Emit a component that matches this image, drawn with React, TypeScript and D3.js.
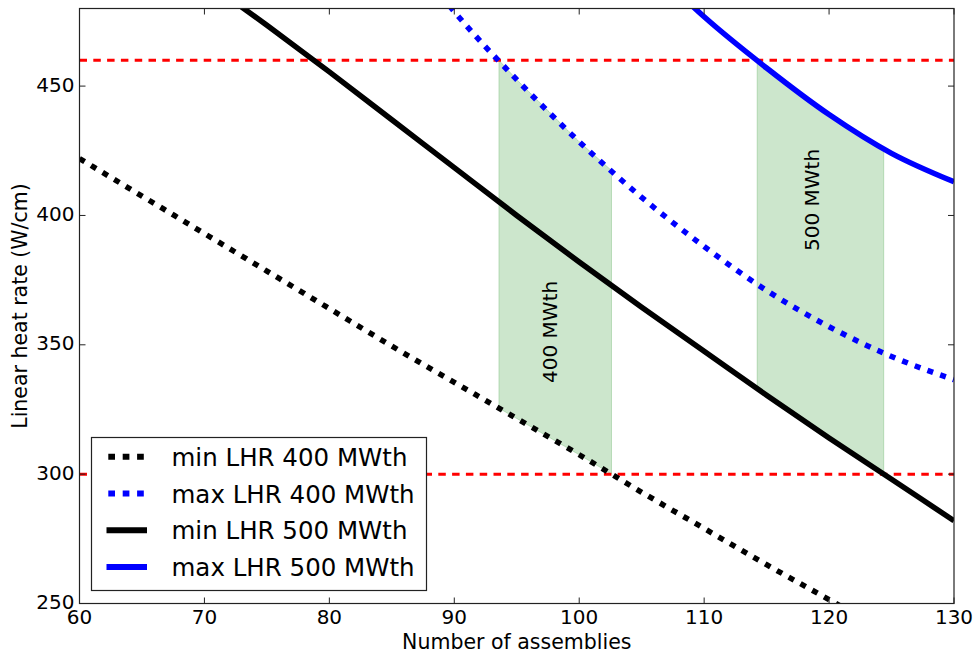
import React, { useRef, useEffect } from "react";
import * as d3 from "d3";

// readings, W/cm vs number of assemblies
const nAssemblies = [60, 65, 70, 75, 80, 85, 90, 95, 100, 105, 110, 115, 120, 125, 130];
const minLhr400 = [422, 407.5, 393, 378.5, 364, 349.5, 335.5, 321.5, 307.5, 293, 279, 265, 251.5, 238, 225];
const maxLhr400 = [null, null, null, null, null, 510, 478.8, 452.5, 428.5, 407, 388, 371, 357, 345.5, 336.5];
const minLhr500 = [null, null, 491, 473.5, 455.5, 437, 418.5, 400, 382, 364.5, 347.5, 330.5, 314, 298, 282];
const maxLhr500 = [null, null, null, null, null, null, null, null, null, 500, 476.8, 457, 439, 424, 413];

const lhrLimits = [300, 460];
const xTicks = [60, 70, 80, 90, 100, 110, 120, 130];
const yTicks = [250, 300, 350, 400, 450];
const seriesLabels = ["min LHR 400 MWth", "max LHR 400 MWth", "min LHR 500 MWth", "max LHR 500 MWth"];
const bandLabels = ["400 MWth", "500 MWth"];
const bandLabelX = [98.2, 119.2];
const bandLabelY = [355, 406];

const WIDTH = 975;
const HEIGHT = 652;
const FONT = "DejaVu Sans, sans-serif";

type Val = number | null;

// x where a decreasing series drops through a level
const crossing = (values: Val[], level: number) => {
  for (let i = 0; i < values.length - 1; i++) {
    const a = values[i], b = values[i + 1];
    if (a == null || b == null) continue;
    if (a >= level && b < level) {
      return nAssemblies[i] + ((a - level) / (a - b)) * (nAssemblies[i + 1] - nAssemblies[i]);
    }
  }
  return nAssemblies[nAssemblies.length - 1];
};

const interp = (values: Val[], x: number) => {
  for (let i = 0; i < nAssemblies.length - 1; i++) {
    if (x >= nAssemblies[i] && x <= nAssemblies[i + 1]) {
      const a = values[i] as number, b = values[i + 1] as number;
      const t = (x - nAssemblies[i]) / (nAssemblies[i + 1] - nAssemblies[i]);
      return a + t * (b - a);
    }
  }
  return values[values.length - 1] as number;
};

const App: React.FC = () => {
  const svgRef = useRef<SVGSVGElement | null>(null);

  useEffect(() => {
    if (!svgRef.current) return;
    const svg = d3.select(svgRef.current);
    svg.selectAll("*").remove();

    const x = d3.scaleLinear().domain([60, 130]).range([79.5, 954]);
    const y = d3.scaleLinear().domain([250, 480]).range([603.5, 8.5]);
    const [x0, x1] = x.range();
    const [y0, y1] = y.range();

    svg
      .append("defs")
      .append("clipPath")
      .attr("id", "plot-clip")
      .append("rect")
      .attr("x", x0)
      .attr("y", y1)
      .attr("width", x1 - x0)
      .attr("height", y0 - y1);

    const plot = svg.append("g").attr("clip-path", "url(#plot-clip)");

    const series = [
      { label: seriesLabels[0], values: minLhr400, color: "#000000", dotted: true },
      { label: seriesLabels[1], values: maxLhr400, color: "#0000ff", dotted: true },
      { label: seriesLabels[2], values: minLhr500, color: "#000000", dotted: false },
      { label: seriesLabels[3], values: maxLhr500, color: "#0000ff", dotted: false },
    ];

    // allowed bands: between min and max curve, from max hitting upper limit to min hitting lower limit
    const bands = [
      { lower: minLhr400, upper: maxLhr400 },
      { lower: minLhr500, upper: maxLhr500 },
    ];
    const area = d3
      .area<{ n: number; lo: number; hi: number }>()
      .x((d) => x(d.n))
      .y0((d) => y(d.lo))
      .y1((d) => y(d.hi));

    bands.forEach((b, i) => {
      const start = crossing(b.upper, lhrLimits[1]);
      const end = crossing(b.lower, lhrLimits[0]);
      const ns = d3.range(start, end, 0.1).concat([end]);
      const pts = ns.map((n) => ({ n, lo: interp(b.lower, n), hi: interp(b.upper, n) }));
      plot
        .append("path")
        .attr("d", area(pts) as string)
        .attr("fill", "green")
        .attr("fill-opacity", 0.2)
        .attr("stroke", "green")
        .attr("stroke-opacity", 0.2)
        .attr("stroke-width", 1);

      const lx = x(bandLabelX[i]);
      const ly = y(bandLabelY[i]);
      plot
        .append("text")
        .attr("transform", `translate(${lx},${ly}) rotate(-90)`)
        .attr("text-anchor", "middle")
        .attr("font-family", FONT)
        .attr("font-size", 20)
        .attr("fill", "#000")
        .text(bandLabels[i]);
    });

    // red limit lines
    lhrLimits.forEach((v) => {
      plot
        .append("line")
        .attr("x1", x0)
        .attr("x2", x1)
        .attr("y1", y(v))
        .attr("y2", y(v))
        .attr("stroke", "#ff0000")
        .attr("stroke-width", 3)
        .attr("stroke-dasharray", "7.5,6.3");
    });

    const line = d3
      .line<Val>()
      .defined((d) => d != null)
      .x((d, i) => x(nAssemblies[i]))
      .y((d) => y(d as number))
      .curve(d3.curveMonotoneX);

    series.forEach((s) => {
      plot
        .append("path")
        .attr("d", line(s.values) as string)
        .attr("fill", "none")
        .attr("stroke", s.color)
        .attr("stroke-width", 5.5)
        .attr("stroke-dasharray", s.dotted ? "6,7.5" : null);
    });

    // frame and inward ticks on all sides
    const axes = svg.append("g");
    axes
      .append("rect")
      .attr("x", x0)
      .attr("y", y1)
      .attr("width", x1 - x0)
      .attr("height", y0 - y1)
      .attr("fill", "none")
      .attr("stroke", "#222")
      .attr("stroke-width", 1.2);

    const tickLen = 6;
    xTicks.forEach((t) => {
      const px = x(t);
      axes.append("line").attr("x1", px).attr("x2", px).attr("y1", y0).attr("y2", y0 - tickLen).attr("stroke", "#222");
      axes.append("line").attr("x1", px).attr("x2", px).attr("y1", y1).attr("y2", y1 + tickLen).attr("stroke", "#222");
      axes
        .append("text")
        .attr("x", px)
        .attr("y", y0 + 20.5)
        .attr("text-anchor", "middle")
        .attr("font-family", FONT)
        .attr("font-size", 20)
        .text(t);
    });
    yTicks.forEach((t) => {
      const py = y(t);
      axes.append("line").attr("x1", x0).attr("x2", x0 + tickLen).attr("y1", py).attr("y2", py).attr("stroke", "#222");
      axes.append("line").attr("x1", x1).attr("x2", x1 - tickLen).attr("y1", py).attr("y2", py).attr("stroke", "#222");
      axes
        .append("text")
        .attr("x", x0 - 5)
        .attr("y", py + 5.5)
        .attr("text-anchor", "end")
        .attr("font-family", FONT)
        .attr("font-size", 20)
        .text(t);
    });

    axes
      .append("text")
      .attr("x", (x0 + x1) / 2)
      .attr("y", 648.5)
      .attr("text-anchor", "middle")
      .attr("font-family", FONT)
      .attr("font-size", 20.5)
      .text("Number of assemblies");

    axes
      .append("text")
      .attr("transform", `translate(27,${(y0 + y1) / 2}) rotate(-90)`)
      .attr("text-anchor", "middle")
      .attr("font-family", FONT)
      .attr("font-size", 20.5)
      .text("Linear heat rate (W/cm)");

    // legend
    const legend = svg.append("g");
    legend
      .append("rect")
      .attr("x", 91.5)
      .attr("y", 437.5)
      .attr("width", 335)
      .attr("height", 153)
      .attr("fill", "#fff")
      .attr("stroke", "#222")
      .attr("stroke-width", 1.2);

    series.forEach((s, i) => {
      const ry = 456.7 + i * 36.8;
      legend
        .append("line")
        .attr("x1", s.dotted ? 108.3 : 106.5)
        .attr("x2", 147)
        .attr("y1", ry)
        .attr("y2", ry)
        .attr("stroke", s.color)
        .attr("stroke-width", 6)
        .attr("stroke-dasharray", s.dotted ? "6.7,7.7" : null);
      legend
        .append("text")
        .attr("x", 171.5)
        .attr("y", ry + 9)
        .attr("font-family", FONT)
        .attr("font-size", 24.5)
        .text(s.label);
    });
  }, []);

  return (
    <svg
      ref={svgRef}
      width={WIDTH}
      height={HEIGHT}
      style={{ position: "absolute", left: 0, top: 0, display: "block", background: "#fff" }}
    ></svg>
  );
};

export default App;
